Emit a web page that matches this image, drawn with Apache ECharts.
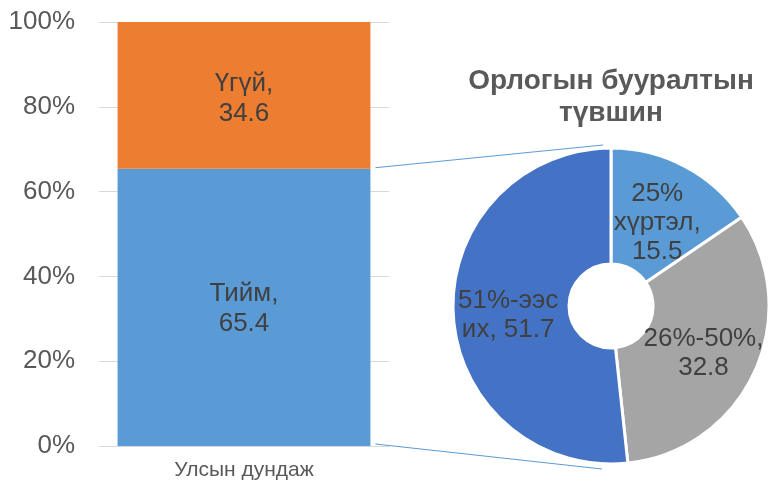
<!DOCTYPE html>
<html>
<head>
<meta charset="utf-8">
<script src="https://cdn.jsdelivr.net/npm/echarts@6/dist/echarts.min.js"></script>
<style>html,body{margin:0;padding:0;background:#fff}#c{width:768px;height:485px}</style>
</head>
<body>
<div id="c"></div>
<script>
// ---- data ----
var barCategories = ['Улсын дундаж'];
var barSeriesNames = ['Тийм', 'Үгүй'];
var barYes = [65.4];
var barNo = [34.6];
var yTicks = [0, 20, 40, 60, 80, 100];
var pieNames = ['25%\nхүртэл', '26%-50%', '51%-ээс\nих'];
var pieValues = [15.5, 32.8, 51.7];
var pieLabelSep = ['\n', '\n', ' '];
var pieTitle = 'Орлогын бууралтын\nтүвшин';

var FONT = "'Liberation Sans', Arial, sans-serif";
var chart = echarts.init(document.getElementById('c'), null, {renderer: 'canvas'});

var pieCenter = [611, 306], pieR = [42, 158];
var pieLabelShift = [[-2, 8], [-1, 4], [0, 4]];

var option = {
  animation: false,
  backgroundColor: '#ffffff',
  title: {
    text: pieTitle,
    left: 606, top: 60, textAlign: 'center',
    textStyle: {fontFamily: FONT, fontSize: 28, fontWeight: 'bold', color: '#595959', lineHeight: 32}
  },
  grid: {left: 99, width: 290, top: 22, bottom: 39, containLabel: false},
  xAxis: {
    type: 'category', data: barCategories,
    axisLine: {show: false}, axisTick: {show: false},
    axisLabel: {fontFamily: FONT, fontSize: 21, color: '#595959', margin: 14}
  },
  yAxis: {
    type: 'value', min: yTicks[0], max: yTicks[yTicks.length - 1], interval: 20,
    axisLine: {show: false}, axisTick: {show: false},
    axisLabel: {fontFamily: FONT, fontSize: 26, color: '#595959', margin: 24, formatter: '{value}%'},
    splitLine: {lineStyle: {color: '#D9D9D9', width: 1}}
  },
  series: [
    {
      type: 'bar', name: barSeriesNames[0], stack: 's', data: barYes, barWidth: '87.2%',
      itemStyle: {color: '#5B9BD5'},
      label: {show: true, position: 'inside', fontFamily: FONT, fontSize: 26, color: '#404040', lineHeight: 30,
        offset: [0, 1],
        formatter: function (p) { return p.seriesName + ',\n' + p.value; }}
    },
    {
      type: 'bar', name: barSeriesNames[1], stack: 's', data: barNo, barWidth: '87.2%',
      itemStyle: {color: '#ED7D31'},
      label: {show: true, position: 'inside', fontFamily: FONT, fontSize: 26, color: '#404040', lineHeight: 30,
        offset: [0, 3],
        formatter: function (p) { return p.seriesName + ',\n' + p.value; }}
    },
    {
      type: 'pie', center: pieCenter, radius: pieR, startAngle: 90, clockwise: true,
      data: pieNames.map(function (n, i) {
        return {name: n, value: pieValues[i], label: {offset: pieLabelShift[i]}};
      }),
      color: ['#5B9BD5', '#A5A5A5', '#4472C4'],
      itemStyle: {borderColor: '#ffffff', borderWidth: 3},
      label: {show: true, position: 'inside', fontFamily: FONT, fontSize: 26, color: '#404040', lineHeight: 29,
        formatter: function (p) { return p.name + ',' + pieLabelSep[p.dataIndex] + p.value; }},
      labelLine: {show: false},
      emphasis: {disabled: true}
    }
  ]
};
chart.setOption(option);

// connector lines from the bar's blue segment to the pie
var lay = chart.getModel().getSeriesByIndex(0).getData().getItemLayout(0);
var barRight = lay.x + lay.width;
var yTop = Math.min(lay.y, lay.y + lay.height);
var yBot = Math.max(lay.y, lay.y + lay.height);
chart.setOption({
  graphic: [
    {type: 'line', shape: {x1: barRight + 5, y1: yTop - 1, x2: pieCenter[0] - 8, y2: pieCenter[1] - pieR[1] - 3},
     style: {stroke: '#5B9BD5', lineWidth: 1}, z: 10},
    {type: 'line', shape: {x1: barRight + 5, y1: yBot - 2, x2: pieCenter[0] - 9, y2: pieCenter[1] + pieR[1] + 5},
     style: {stroke: '#5B9BD5', lineWidth: 1}, z: 10}
  ]
});
</script>
</body>
</html>
